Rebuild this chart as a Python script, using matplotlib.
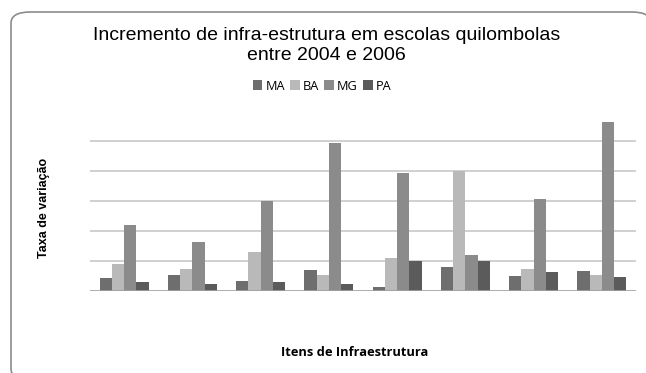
import matplotlib.pyplot as plt
from matplotlib.patches import FancyBboxPatch, Patch
import numpy as np

estados = ['MA', 'BA', 'MG', 'PA']
cores = ['#6e6e6e', '#b9b9b9', '#8b8b8b', '#5b5b5b']

# 8 itens de infraestrutura (sem rotulos no grafico original)
ma = [0.44, 0.54, 0.34, 0.71, 0.12, 0.79, 0.49, 0.67]
ba = [0.91, 0.73, 1.30, 0.52, 1.11, 4.00, 0.73, 0.54]
mg = [2.20, 1.64, 3.00, 4.95, 3.94, 1.19, 3.07, 5.63]
pa = [0.31, 0.22, 0.29, 0.22, 0.99, 0.99, 0.62, 0.47]

series = [ma, ba, mg, pa]

fig = plt.figure(figsize=(6.46, 3.73), dpi=100)

# moldura arredondada tipo Excel
moldura = FancyBboxPatch((11 / 646, 1 - 380 / 373), 640 / 646, 368 / 373,
                         boxstyle='round,pad=0,rounding_size=0.03',
                         transform=fig.transFigure, facecolor='white',
                         edgecolor='#8c8c8c', linewidth=1.2, zorder=-5)
fig.patches.append(moldura)

ax = fig.add_axes([90 / 646, 82 / 373, 546 / 646, 180 / 373])
ax.set_facecolor('none')
ax.set_zorder(2)

x = np.arange(len(ma))
w = 0.18
for i, (vals, cor) in enumerate(zip(series, cores)):
    ax.bar(x + (i - 1.5) * w, vals, width=w, color=cor, zorder=3)

ax.set_xlim(-0.5, len(ma) - 0.5)
ax.set_ylim(0, 6)
for g in range(1, 6):
    ax.axhline(g, color='#c8c8c8', linewidth=1.2, zorder=1)
ax.axhline(0, color='#a0a0a0', linewidth=1.2, zorder=4)

for s in ax.spines.values():
    s.set_visible(False)
ax.set_xticks([])
ax.set_yticks([])

fig.text(0.505, 1 - 35 / 373, 'Incremento de infra-estrutura em escolas quilombolas',
         ha='center', va='center', fontsize=14, family='Liberation Sans')
fig.text(0.505, 1 - 55 / 373, 'entre 2004 e 2006',
         ha='center', va='center', fontsize=14, family='Liberation Sans')

handles = [Patch(facecolor=c, edgecolor='none') for c in cores]
fig.legend(handles, estados, loc='center', bbox_to_anchor=(322 / 646, 1 - 86 / 373),
           ncol=4, frameon=False, handlelength=0.75, handleheight=0.75,
           handletextpad=0.25, columnspacing=0.4, prop={'family': 'Open Sans', 'size': 9.2})

fig.text(44 / 646, 1 - 208 / 373, 'Taxa de variação', rotation=90,
         ha='center', va='center', fontsize=9, fontweight='bold', family='Liberation Sans')
fig.text(355 / 646, 1 - 352 / 373, 'Itens de Infraestrutura',
         ha='center', va='center', fontsize=9.3, fontweight='bold', family='Open Sans')

fig.savefig('out.png', dpi=100)
